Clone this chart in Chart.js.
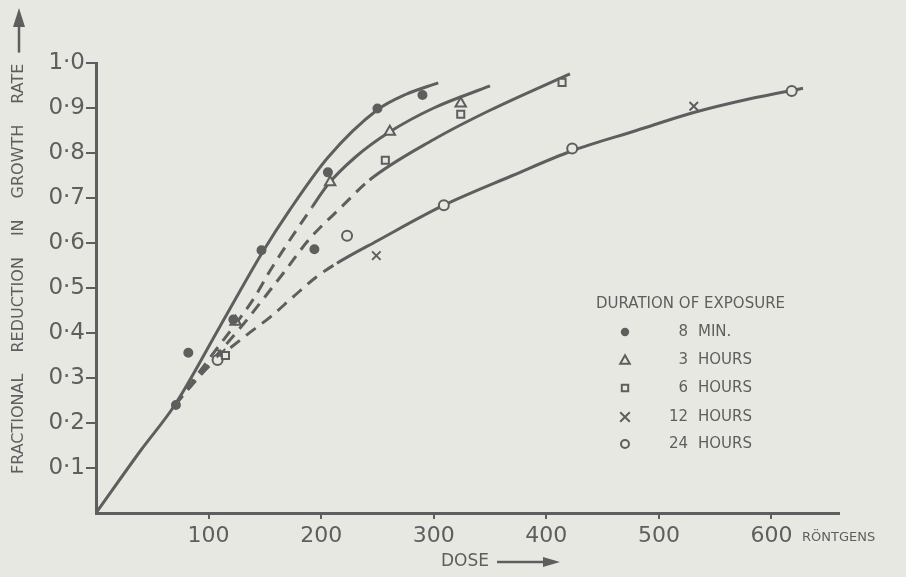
<!DOCTYPE html>
<html>
<head>
<meta charset="utf-8">
<script src="https://cdn.jsdelivr.net/npm/chart.js@4.4.0/dist/chart.umd.min.js"></script>
<style>
  html, body { margin: 0; padding: 0; background: #e8e8e3; }
</style>
</head>
<body>
<canvas id="myChart" width="906" height="577"></canvas>
<script>
// tick values
var xTicks = [100, 200, 300, 400, 500, 600];
var yTicks = [0.1, 0.2, 0.3, 0.4, 0.5, 0.6, 0.7, 0.8, 0.9, 1.0];

// measured points (dose in roentgens, fractional reduction)
var dose8min = [71, 82, 122, 147, 194, 206, 250, 290];
var red8min = [0.24, 0.356, 0.43, 0.584, 0.586, 0.757, 0.899, 0.929];
var dose3h = [124, 208, 261, 324];
var red3h = [0.425, 0.735, 0.847, 0.91];
var dose6h = [115, 257, 324, 414];
var red6h = [0.35, 0.784, 0.886, 0.957];
var dose12h = [111, 249, 531];
var red12h = [0.355, 0.572, 0.904];
var dose24h = [108, 223, 309, 423, 618];
var red24h = [0.34, 0.616, 0.684, 0.81, 0.938];

// fitted curves
var curve1Dose = [0, 40, 70, 110, 148, 172, 206, 250, 275, 304];
var curve1Red = [0, 0.14, 0.24, 0.414, 0.58, 0.673, 0.79, 0.896, 0.93, 0.956];
var curve2Dose = [70, 100, 141, 155, 192, 206, 230, 261, 300, 350];
var curve2Red = [0.24, 0.341, 0.48, 0.54, 0.68, 0.73, 0.79, 0.847, 0.90, 0.949];
var curve3Dose = [70, 100, 131, 149, 167, 190, 218, 243, 300, 350, 421];
var curve3Red = [0.24, 0.33, 0.42, 0.477, 0.535, 0.61, 0.68, 0.74, 0.83, 0.895, 0.976];
var curve4Dose = [70, 100, 134, 155, 175, 196, 214, 250, 309, 370, 423, 480, 531, 580, 628];
var curve4Red = [0.24, 0.325, 0.396, 0.436, 0.48, 0.525, 0.555, 0.605, 0.684, 0.75, 0.805, 0.85, 0.89, 0.92, 0.944];

var legendNums = ['8', '3', '6', '12', '24'];
var legendUnits = ['MIN.', 'HOURS', 'HOURS', 'HOURS', 'HOURS'];

var ink = '#5e5e5e';
var paper = '#e8e8e3';
var font = '"DejaVu Sans", sans-serif';

function pts(xs, ys) {
  return xs.map(function (x, i) { return { x: x, y: ys[i] }; });
}

function curve(xs, ys, dashEnd) {
  return {
    data: pts(xs, ys),
    showLine: true,
    borderColor: ink,
    borderWidth: 3,
    pointRadius: 0,
    cubicInterpolationMode: 'monotone',
    order: 2,
    segment: {
      borderDash: function (ctx) {
        return ctx.p1.parsed.x <= dashEnd ? [12, 8] : undefined;
      }
    }
  };
}

function marks(xs, ys, style, radius, fill) {
  return {
    data: pts(xs, ys),
    showLine: false,
    pointStyle: style,
    pointRadius: radius,
    pointBorderWidth: 2,
    pointBorderColor: ink,
    pointBackgroundColor: fill,
    order: 1
  };
}

var markerSets = [
  marks(dose8min, red8min, 'circle', 4, ink),
  marks(dose3h, red3h, 'triangle', 6, paper),
  marks(dose6h, red6h, 'rect', 5, paper),
  marks(dose12h, red12h, 'crossRot', 6, paper),
  marks(dose24h, red24h, 'circle', 5, paper)
];

var extras = {
  id: 'extras',
  beforeDraw: function (chart) {
    var c = chart.ctx;
    c.save();
    c.fillStyle = paper;
    c.fillRect(0, 0, chart.width, chart.height);
    c.restore();
  },
  afterDraw: function (chart) {
    var c = chart.ctx;
    c.save();
    c.fillStyle = ink;
    c.strokeStyle = ink;

    // y title, rotated
    c.save();
    c.translate(19, 474);
    c.rotate(-Math.PI / 2);
    c.font = '16px ' + font;
    c.textAlign = 'left';
    c.textBaseline = 'middle';
    var words = ['FRACTIONAL', 'REDUCTION', 'IN', 'GROWTH', 'RATE'];
    var px = 0;
    words.forEach(function (w) {
      c.fillText(w, px, 0);
      px += c.measureText(w).width + 21;
    });
    c.lineWidth = 2.5;
    c.beginPath();
    c.moveTo(px - 10, 0);
    c.lineTo(449, 0);
    c.stroke();
    c.beginPath();
    c.moveTo(466, 0);
    c.lineTo(447, -6);
    c.lineTo(447, 6);
    c.closePath();
    c.fill();
    c.restore();

    // x title
    c.font = '17px ' + font;
    c.textBaseline = 'middle';
    c.textAlign = 'left';
    c.fillText('DOSE', 441, 562);
    var dw = c.measureText('DOSE').width;
    c.lineWidth = 2.5;
    c.beginPath();
    c.moveTo(441 + dw + 8, 562);
    c.lineTo(545, 562);
    c.stroke();
    c.beginPath();
    c.moveTo(560, 562);
    c.lineTo(543, 557);
    c.lineTo(543, 567);
    c.closePath();
    c.fill();

    // unit label
    c.font = '13px ' + font;
    c.fillText('RÖNTGENS', 802, 538);

    // legend
    c.font = '15px ' + font;
    c.fillText('DURATION OF EXPOSURE', 596, 304);
    var rowY = [332, 360, 388, 417, 444];
    markerSets.forEach(function (ds, i) {
      var y = rowY[i];
      c.lineWidth = 2;
      c.strokeStyle = ink;
      c.fillStyle = ds.pointBackgroundColor;
      var r = ds.pointRadius * 0.8;
      c.beginPath();
      if (ds.pointStyle === 'circle') {
        c.arc(625, y, r, 0, Math.PI * 2);
        c.fill(); c.stroke();
      } else if (ds.pointStyle === 'triangle') {
        c.moveTo(625, y - r);
        c.lineTo(625 + r, y + r * 0.8);
        c.lineTo(625 - r, y + r * 0.8);
        c.closePath();
        c.fill(); c.stroke();
      } else if (ds.pointStyle === 'rect') {
        c.rect(625 - r * 0.8, y - r * 0.8, r * 1.6, r * 1.6);
        c.fill(); c.stroke();
      } else {
        c.moveTo(625 - r, y - r); c.lineTo(625 + r, y + r);
        c.moveTo(625 + r, y - r); c.lineTo(625 - r, y + r);
        c.stroke();
      }
      c.fillStyle = ink;
      c.textAlign = 'right';
      c.fillText(legendNums[i], 688, y);
      c.textAlign = 'left';
      c.fillText(legendUnits[i], 698, y);
    });
    c.restore();
  }
};

function yLabel(v) {
  return v.toFixed(1).replace('.', '·');
}

const config = {
  type: 'scatter',
  data: {
    datasets: [
      curve(curve1Dose, curve1Red, -1),
      curve(curve2Dose, curve2Red, 192),
      curve(curve3Dose, curve3Red, 243),
      curve(curve4Dose, curve4Red, 214)
    ].concat(markerSets)
  },
  options: {
    responsive: false,
    animation: false,
    layout: { padding: { top: 63, right: 67, left: 0, bottom: 0 } },
    plugins: {
      legend: { display: false },
      tooltip: { enabled: false }
    },
    scales: {
      x: {
        type: 'linear',
        min: 0,
        max: 660,
        afterFit: function (scale) { scale.height = 64; },
        afterBuildTicks: function (scale) {
          scale.ticks = xTicks.map(function (v) { return { value: v }; });
        },
        ticks: {
          color: ink,
          font: { family: font, size: 22 },
          padding: 4,
          maxRotation: 0,
          callback: function (v) { return v; }
        },
        grid: {
          drawOnChartArea: false,
          drawTicks: true,
          tickLength: 6,
          color: ink,
          lineWidth: 2
        },
        border: { color: ink, width: 3 }
      },
      y: {
        type: 'linear',
        min: 0,
        max: 1,
        afterFit: function (scale) { scale.width = 96; },
        afterBuildTicks: function (scale) {
          scale.ticks = yTicks.map(function (v) { return { value: v }; });
        },
        ticks: {
          color: ink,
          font: { family: font, size: 23 },
          padding: 1,
          callback: function (v) { return yLabel(v); }
        },
        grid: {
          drawOnChartArea: false,
          drawTicks: true,
          tickLength: 10,
          color: ink,
          lineWidth: 2
        },
        border: { color: ink, width: 3 }
      }
    }
  },
  plugins: [extras]
};

const myChart = new Chart(document.getElementById('myChart'), config);
</script>
</body>
</html>
